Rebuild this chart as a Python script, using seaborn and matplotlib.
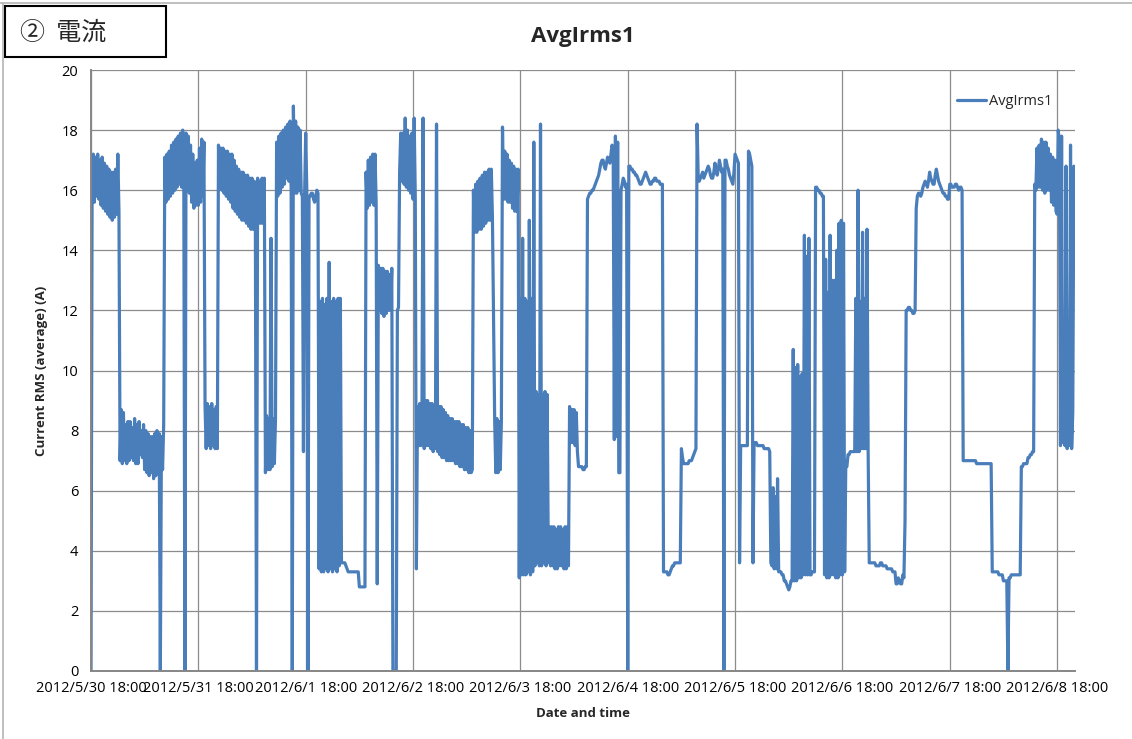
import numpy as np
import pandas as pd
import matplotlib
matplotlib.use('Agg')
import matplotlib.pyplot as plt
import seaborn as sns
from matplotlib.patches import Rectangle
from matplotlib.lines import Line2D

# AvgIrms1 readings, one value per 15 min, each day starting at 18:00
day_0530 = [0, 16.2,
            17.2, 15.6, 17.1, 15.8, 17.2, 15.7, 17.0, 15.5, 17.1, 15.4, 16.9, 15.3,
            16.8, 15.2, 16.7, 15.1, 16.6, 15.0, 16.6, 15.1, 16.7, 15.2, 17.2, 15.3,
            7.0, 8.7, 6.9, 8.6, 7.0, 8.2, 6.9, 8.3, 7.0, 8.3, 7.1, 8.1, 7.0, 8.4, 6.9, 8.2, 6.9, 8.3,
            7.2, 8.0, 7.1, 8.2, 6.7, 8.0, 6.6, 7.9, 6.5, 7.8, 6.6, 7.8, 6.4, 7.9, 6.5, 8.0, 6.6, 7.9,
            0, 7.8, 6.7, 8.2,
            17.1, 15.6, 17.2, 15.7, 17.3, 15.8, 17.5, 15.9, 17.6, 16.0, 17.7, 16.1, 17.8, 16.2,
            17.9, 16.1, 18.0, 16.2,
            0, 17.9, 16.0, 17.8, 15.9, 17.5, 15.6, 17.2, 15.4, 16.9, 15.5, 17.0]
day_0531 = [15.5, 17.4, 15.6, 17.7, 15.8, 17.6,
            8.8, 7.4, 8.9, 7.5, 8.8, 7.4, 8.9, 7.5, 8.7, 7.4, 8.8, 7.4,
            17.5, 16.1, 17.4, 16.0, 17.4, 15.9, 17.3, 15.8, 17.3, 15.7, 17.2, 15.6, 17.2, 15.4,
            17.0, 15.3, 16.8, 15.2, 16.7, 15.1, 16.6, 15.0, 16.6, 15.0, 16.5, 14.9, 16.5, 14.8,
            16.4, 14.7, 16.4, 14.7, 16.3, 14.8,
            0, 16.4, 14.9, 16.3, 14.9, 16.4, 14.9, 16.4,
            6.6, 8.5, 6.7, 8.4, 6.7, 14.4, 6.8, 8.4, 6.9, 8.4,
            17.6, 15.8, 17.8, 15.9, 17.9, 16.1, 18.0, 16.2, 18.1, 16.4, 18.2, 16.3, 18.3, 16.0,
            0, 18.8, 15.9, 18.3, 15.9, 18.1, 16.0, 18.0, 15.9, 15.8, 7.3, 15.8]
day_0601 = [17.9, 16.0, 0, 15.8, 15.8, 15.9, 15.9, 15.7, 15.6, 15.8, 16.0, 15.9,
            3.4, 12.3, 3.3, 12.4, 3.3, 12.2, 3.4, 12.4, 3.3, 13.6, 3.4, 12.3, 3.3, 12.4,
            3.4, 12.3, 3.3, 12.4, 3.5, 12.4,
            3.6, 3.6, 3.6, 3.6, 3.5, 3.4, 3.3, 3.3, 3.3, 3.3, 3.3, 3.3, 3.3, 3.3, 3.3, 3.3,
            2.8, 2.8, 2.8, 2.8, 2.8, 2.8,
            16.6, 15.4, 17.0, 15.5, 17.1, 15.6, 17.2, 15.5, 17.2, 15.6,
            2.9, 13.5, 12.0, 13.4, 11.9, 13.4, 11.8, 13.3, 11.9, 13.3, 12.0, 13.2, 12.0, 13.4,
            0, 0, 0, 0, 12.0, 12.1, 16.6, 17.9, 16.3, 17.9, 16.2, 18.4, 16.1, 18.0, 16.0, 17.8,
            15.9, 17.9]
day_0602 = [15.7, 18.4, 15.8, 3.4, 8.8, 7.5, 8.9, 7.5, 8.8, 18.4, 7.4, 9.0, 7.5, 9.0, 7.5, 8.9,
            7.4, 8.9, 7.3, 8.8, 7.4, 18.2, 7.3, 8.8,
            7.2, 8.8, 7.1, 8.7, 7.1, 8.6, 7.0, 8.5, 7.0, 8.4, 7.0, 8.4, 7.0, 8.3, 6.9, 8.3,
            6.9, 8.3, 6.8, 8.2, 6.8, 8.2, 6.7, 8.1, 6.7, 8.1, 6.6, 8.0, 6.6, 6.7,
            16.0, 14.6, 16.2, 14.6, 16.3, 14.7, 16.4, 14.7, 16.5, 14.8, 16.6, 14.9, 16.6, 15.0,
            16.7, 15.0, 16.7, 15.1,
            11.6, 8.4, 6.6, 8.4, 6.6, 8.3, 6.7, 8.3,
            18.1, 15.7, 17.3, 15.7, 17.2, 15.6, 17.0, 15.6, 16.9, 15.4, 16.8, 15.3, 16.7, 15.3,
            16.7, 3.1]
day_0603 = [12.4, 3.2, 14.4, 3.2, 12.4, 3.2, 12.3, 3.3, 15.0, 3.2, 12.4, 3.3, 17.6, 3.5,
            9.3, 3.6, 9.2, 3.5, 18.2, 3.5, 9.2, 3.6, 9.3, 3.5, 9.2, 3.6,
            4.8, 3.5, 4.8, 3.5, 4.8, 3.4, 4.7, 3.4, 4.8, 3.5, 4.8, 3.5, 4.7, 3.4, 4.8, 3.4, 4.8, 3.5,
            8.8, 7.6, 8.7, 7.6, 8.7, 7.5, 8.6, 7.3, 6.8, 6.8, 6.8, 6.8, 6.7, 6.7, 6.8, 6.8,
            15.7, 15.8, 15.9, 15.9, 16.0, 16.0, 16.1, 16.2, 16.3, 16.4, 16.5, 16.7,
            16.9, 17.0, 17.0, 16.8, 16.7, 16.9, 17.1, 17.0, 16.9, 17.2, 17.5, 17.3,
            7.7, 17.8, 7.8, 17.6, 6.6, 6.6, 16.0, 16.2, 16.4, 16.3, 16.1, 16.2]
day_0604 = [0, 16.8, 16.8, 16.7, 16.7, 16.6, 16.6, 16.5, 16.5, 16.4, 16.3, 16.2, 16.2, 16.3, 16.4, 16.5,
            16.6, 16.5, 16.4, 16.3, 16.2, 16.2, 16.3, 16.3, 16.4, 16.4, 16.3, 16.3, 16.3, 16.2, 16.2, 16.2,
            3.3, 3.3, 3.3, 3.3, 3.2, 3.2, 3.3, 3.4, 3.5, 3.5, 3.6, 3.6, 3.6, 3.6, 3.6, 3.6,
            7.4, 7.1, 6.9, 6.9, 6.9, 6.9, 6.9, 7.0, 7.0, 7.0, 7.1, 7.2, 7.3, 7.4,
            18.2, 16.5, 16.3, 16.4, 16.5, 16.6, 16.4, 16.5, 16.6, 16.7, 16.8, 16.7,
            16.5, 16.4, 16.4, 16.6, 16.9, 16.7, 16.5, 16.7, 17.0, 16.8, 16.6, 16.7,
            0, 17.0, 17.0, 16.8, 16.7, 16.5, 16.4, 16.3, 16.2, 16.6]
day_0605 = [17.2, 17.1, 17.0, 16.9, 3.6, 7.5, 7.5, 7.5, 7.5, 7.5, 7.5, 7.5, 17.3, 17.2, 17.0, 16.8, 3.6, 7.6,
            7.6, 7.6, 7.5, 7.5, 7.5, 7.5, 7.5, 7.5, 7.4, 7.4, 7.4, 7.4, 7.4, 7.3, 3.6, 3.5,
            6.1, 3.4, 5.8, 3.4, 6.4, 3.3, 3.3, 3.3, 3.2, 3.2, 3.0, 3.0, 2.9, 2.8, 2.7, 2.8, 3.0, 3.0,
            10.7, 3.0, 10.1, 3.0, 10.2, 3.1, 9.8, 3.1, 9.9, 3.2, 14.5, 3.2, 13.8, 3.2, 14.4, 3.2,
            3.2, 3.3, 3.3, 3.3,
            16.1, 16.1, 16.0, 16.0, 15.9, 15.9, 15.8, 15.8,
            3.2, 13.7, 3.1, 12.6, 3.1, 14.5, 3.2, 13.0, 3.2, 13.0, 3.1, 14.0, 3.1, 14.9, 3.2, 15.0]
day_0606 = [3.2, 14.9, 3.3, 6.8, 6.8, 7.2, 7.2, 7.3, 7.3, 7.3, 7.3, 7.3,
            12.4, 7.3, 16.0, 7.3, 12.3, 7.4, 14.6, 7.4, 12.4, 7.4, 14.7, 7.3,
            3.6, 3.6, 3.6, 3.6, 3.6, 3.6, 3.5, 3.5, 3.5, 3.5, 3.6, 3.6,
            3.5, 3.5, 3.5, 3.5, 3.4, 3.4, 3.4, 3.4, 3.4, 3.3, 3.3, 3.3,
            2.9, 2.9, 3.1, 3.0, 2.9, 2.9, 3.2, 3.1, 5.0, 12.0, 12.0, 12.1, 12.1, 12.0, 12.0, 11.9,
            11.9, 12.0,
            15.4, 15.8, 15.9, 15.9, 15.8, 15.9, 16.1, 16.2, 16.3, 16.2, 16.1, 16.3, 16.6, 16.4, 16.3,
            16.2, 16.2, 16.5, 16.7, 16.5, 16.3, 16.2, 16.1, 16.0, 15.9, 15.9, 15.8, 15.8, 15.7, 15.7]
day_0607 = [16.2, 16.2, 16.1, 16.1, 16.1, 16.2, 16.2, 16.1, 16.0, 16.1, 16.1, 16.0,
            7.0, 7.0, 7.0, 7.0, 7.0, 7.0, 7.0, 7.0, 7.0, 7.0, 7.0, 7.0, 6.9,
            6.9, 6.9, 6.9, 6.9, 6.9, 6.9, 6.9, 6.9, 6.9, 6.9, 6.9, 6.9, 6.9,
            3.3, 3.3, 3.3, 3.3, 3.3, 3.3, 3.2, 3.2, 3.2, 3.2, 3.0, 3.0, 3.0,
            3.0, 0, 3.1, 3.1, 3.2, 3.2, 3.2, 3.2, 3.2, 3.2, 3.2, 3.2, 3.2,
            6.8, 6.8, 6.9, 6.9, 6.9, 6.9, 7.1, 7.1, 7.2, 7.2, 7.3, 7.3,
            16.2, 16.0, 17.4, 16.1, 17.5, 16.1, 17.7, 16.0, 17.6, 15.9, 17.6, 16.0, 17.4, 16.0,
            17.2, 15.6, 17.1, 15.5, 17.0, 15.3]
day_0608 = [15.2, 18.0, 17.6, 7.5, 17.8, 7.6, 8.8, 7.5, 16.8, 7.4, 8.7, 7.5, 17.5, 7.4, 8.6,
            16.8, 16.3]

tick_labels = ['2012/5/30 18:00', '2012/5/31 18:00', '2012/6/1 18:00', '2012/6/2 18:00',
               '2012/6/3 18:00', '2012/6/4 18:00', '2012/6/5 18:00', '2012/6/6 18:00',
               '2012/6/7 18:00', '2012/6/8 18:00']

irms = np.concatenate([day_0530, day_0531, day_0601, day_0602, day_0603,
                       day_0604, day_0605, day_0606, day_0607, day_0608])
times = pd.date_range('2012-05-30 18:00', periods=len(irms), freq='15min')
df = pd.DataFrame({'time': times, 'AvgIrms1': irms})

sns.set_style('white')
plt.rcParams['font.family'] = ['Open Sans', 'DejaVu Sans']

fig = plt.figure(figsize=(11.32, 7.39), dpi=100)
ax = fig.add_axes([91 / 1132, 1 - 671 / 739, 984 / 1132, 601 / 739])

sns.lineplot(data=df, x='time', y='AvgIrms1', color='#4a7ebb', linewidth=2.3,
             label='AvgIrms1', ax=ax)

ax.set_xlim(times[0], times[-1])
ax.set_ylim(0, 20)
ax.set_yticks(range(0, 21, 2))
ax.set_xticks(pd.date_range('2012-05-30 18:00', periods=len(tick_labels), freq='D'))
ax.set_xticklabels(tick_labels)
ax.tick_params(axis='both', length=0, labelsize=10.5, colors='black')
ax.tick_params(axis='y', pad=9)
ax.tick_params(axis='x', pad=7)

ax.grid(True, color='#8c8c8c', linewidth=0.9)
ax.set_axisbelow(True)
for side in ['top', 'right']:
    ax.spines[side].set_visible(False)
for side in ['left', 'bottom']:
    ax.spines[side].set_color('#868686')
    ax.spines[side].set_linewidth(1.4)

ax.set_xlabel('Date and time', fontsize=9.5, fontweight='bold', labelpad=8)
ax.set_ylabel('Current RMS (average) (A)', fontsize=9.5, fontweight='bold', labelpad=10)
ax.set_title('AvgIrms1', fontsize=16, fontweight='bold', pad=20)

ax.legend(loc='center right', bbox_to_anchor=(0.99, 0.947), frameon=False,
          handlelength=2.0, handletextpad=0.2, fontsize=10.5)

# page frame and the section box in the top left corner
fig.add_artist(Line2D([0, 1], [1 - 3 / 739, 1 - 3 / 739], color='#b4b4b4', linewidth=1.2))
fig.add_artist(Line2D([3 / 1132, 3 / 1132], [0, 1 - 3 / 739], color='#b4b4b4', linewidth=1.2))
fig.add_artist(Rectangle((5 / 1132, 1 - 57 / 739), 161 / 1132, 51 / 739, transform=fig.transFigure,
                         facecolor='white', edgecolor='black', linewidth=1.5))
fig.text(20 / 1132, 1 - 33 / 739, '②  電流', fontsize=18, va='center', ha='left',
         family=['Noto Sans CJK JP', 'DejaVu Sans'])

fig.savefig('out.png', dpi=100)
